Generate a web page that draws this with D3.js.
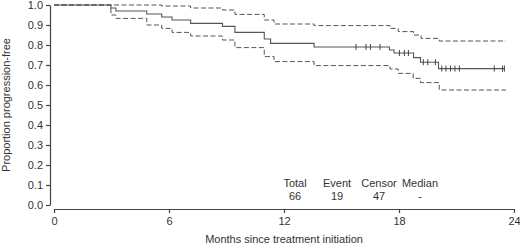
<!DOCTYPE html>
<html><head><meta charset="utf-8">
<script src="https://cdn.jsdelivr.net/npm/d3@7"></script>
<style>
html,body{margin:0;padding:0;background:#fff;}
svg{display:block;font-family:"Liberation Sans",Arial,Helvetica,sans-serif;}
</style></head>
<body><svg id="c" width="520" height="246"></svg>
<script>
// Kaplan-Meier estimate (months, proportion)
const kmTime = [0, 2.97, 3.23, 4.84, 5.62, 6.16, 7.13, 8.79, 9.44, 10.97, 11.3, 13.57, 17.5, 17.74, 18.76, 19.12, 20.06, 23.48];
const kmSurv = [1.0, 0.985, 0.97, 0.955, 0.94, 0.925, 0.908, 0.893, 0.863, 0.83, 0.808, 0.79, 0.775, 0.76, 0.737, 0.714, 0.682, 0.682];
// Upper confidence band
const upTime = [0, 5.62, 7.13, 8.79, 9.44, 10.97, 11.48, 13.57, 17.53, 17.96, 18.76, 19.15, 20.1, 23.58];
const upSurv = [1.0, 0.995, 0.985, 0.975, 0.953, 0.925, 0.905, 0.897, 0.883, 0.867, 0.85, 0.833, 0.82, 0.82];
// Lower confidence band
const loTime = [0, 2.97, 3.23, 4.84, 5.62, 6.16, 7.13, 8.79, 9.44, 10.97, 11.48, 13.57, 17.53, 17.96, 18.74, 19.12, 20.1, 23.58];
const loSurv = [1.0, 0.95, 0.933, 0.9, 0.883, 0.863, 0.845, 0.825, 0.787, 0.742, 0.717, 0.697, 0.68, 0.658, 0.633, 0.612, 0.575, 0.575];
// Censoring times (months)
const censorTimes = [15.76, 16.28, 16.51, 17.01, 18.02, 18.28, 18.49, 19.27, 19.5, 19.9, 20.23, 20.45, 20.69, 20.92, 21.15, 22.97, 23.4, 23.5];
// Axis ticks
const xTicks = [0, 6, 12, 18, 24];
const yTicks = [0, 0.1, 0.2, 0.3, 0.4, 0.5, 0.6, 0.7, 0.8, 0.9, 1.0];
// Summary table
const tableHeads = ["Total", "Event", "Censor", "Median"];
const tableVals = ["66", "19", "47", "-"];

const svg = d3.select("#c");
const x = d3.scaleLinear().domain([0, 24]).range([54, 514]);
const y = d3.scaleLinear().domain([0, 1]).range([205, 5]);
const ink = "#444";
const txt = "#333";

// y axis
const ya = svg.append("g").attr("transform", "translate(50,0)")
  .call(d3.axisLeft(y).tickValues(yTicks).tickFormat(d3.format(".1f")).tickSize(4).tickSizeOuter(0).tickPadding(3));
// x axis
const xa = svg.append("g").attr("transform", "translate(0,209)")
  .call(d3.axisBottom(x).tickValues(xTicks).tickFormat(d3.format("d")).tickSize(4).tickSizeOuter(0).tickPadding(4));
[ya, xa].forEach(g => {
  g.select(".domain").attr("stroke", ink).attr("stroke-width", 1.2);
  g.selectAll(".tick line").attr("stroke", ink).attr("stroke-width", 1.2);
  g.selectAll(".tick text").attr("fill", txt).style("font-size", "11px")
    .style("font-family", '"Liberation Sans",Arial,sans-serif');
});

const line = d3.line().x(d => x(d[0])).y(d => y(d[1])).curve(d3.curveStepAfter);
const zip = (t, s) => t.map((v, i) => [v, s[i]]);

svg.append("path").datum(zip(upTime, upSurv)).attr("d", line)
  .attr("fill", "none").attr("stroke", "#555").attr("stroke-width", 1).attr("stroke-dasharray", "5,2.5");
svg.append("path").datum(zip(loTime, loSurv)).attr("d", line)
  .attr("fill", "none").attr("stroke", "#555").attr("stroke-width", 1).attr("stroke-dasharray", "5,2.5");
svg.append("path").datum(zip(kmTime, kmSurv)).attr("d", line)
  .attr("fill", "none").attr("stroke", "#555").attr("stroke-width", 1.1);

// censor marks
function survAt(t) {
  let s = kmSurv[0];
  for (let i = 0; i < kmTime.length; i++) { if (kmTime[i] <= t) s = kmSurv[i]; }
  return s;
}
svg.append("g").selectAll("line").data(censorTimes).join("line")
  .attr("x1", d => x(d)).attr("x2", d => x(d))
  .attr("y1", d => y(survAt(d)) - 3).attr("y2", d => y(survAt(d)) + 3)
  .attr("stroke", "#444").attr("stroke-width", 1);

// summary table
const tableX = [295, 337, 379, 420];
const tg = svg.append("g").attr("fill", txt).style("font-size", "11px").attr("text-anchor", "middle");
tg.selectAll("text.h").data(tableHeads).join("text").attr("class", "h")
  .attr("x", (d, i) => tableX[i]).attr("y", 187).text(d => d);
tg.selectAll("text.v").data(tableVals).join("text").attr("class", "v")
  .attr("x", (d, i) => tableX[i]).attr("y", 200).text(d => d);

// axis titles
svg.append("text").attr("x", x(12)).attr("y", 243).attr("text-anchor", "middle")
  .attr("fill", txt).style("font-size", "11px").text("Months since treatment initiation");
svg.append("text").attr("transform", "translate(10,105) rotate(-90)").attr("text-anchor", "middle")
  .attr("fill", txt).style("font-size", "11px").text("Proportion progression-free");
</script></body></html>
